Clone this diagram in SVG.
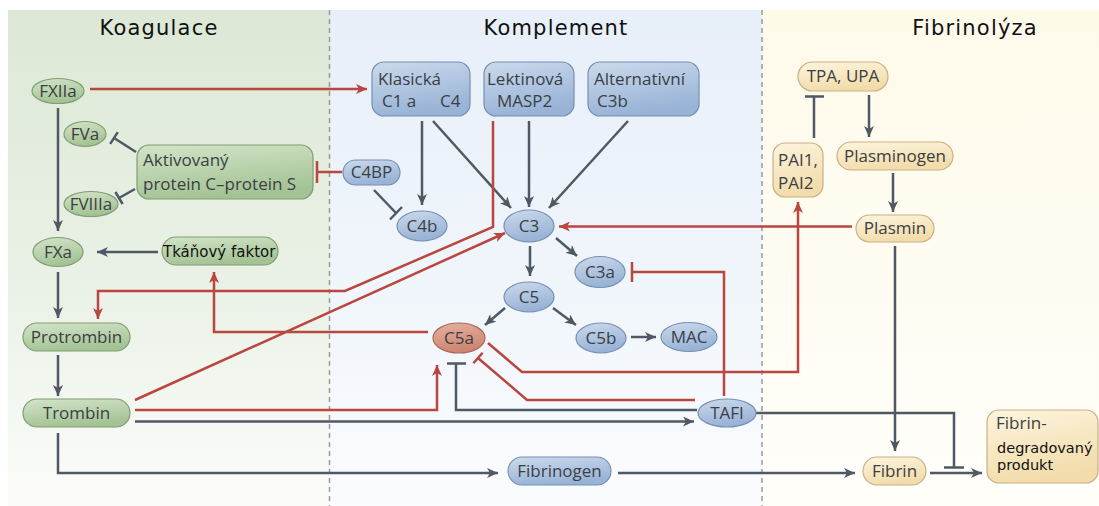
<svg xmlns="http://www.w3.org/2000/svg" width="1099" height="506" viewBox="0 0 1099 506">
<defs>
<linearGradient id="bgL" x1="0" y1="0" x2="0" y2="1"><stop offset="0" stop-color="#dce8d5"/><stop offset="0.55" stop-color="#eaf1e6"/><stop offset="1" stop-color="#fbfcfa"/></linearGradient>
<linearGradient id="bgM" x1="0" y1="0" x2="0" y2="1"><stop offset="0" stop-color="#e7eff9"/><stop offset="0.6" stop-color="#f1f6fb"/><stop offset="1" stop-color="#fbfcfe"/></linearGradient>
<linearGradient id="bgR" x1="0" y1="0" x2="0" y2="1"><stop offset="0" stop-color="#fefaea"/><stop offset="1" stop-color="#fffef9"/></linearGradient>
<linearGradient id="gG" x1="0" y1="0" x2="0.3" y2="1"><stop offset="0" stop-color="#d3e4c8"/><stop offset="1" stop-color="#a4c395"/></linearGradient>
<linearGradient id="gB" x1="0" y1="0" x2="0.3" y2="1"><stop offset="0" stop-color="#ccdaec"/><stop offset="1" stop-color="#98b3d6"/></linearGradient>
<linearGradient id="gY" x1="0" y1="0" x2="0.3" y2="1"><stop offset="0" stop-color="#fdf5de"/><stop offset="1" stop-color="#f2dcab"/></linearGradient>
<linearGradient id="gR" x1="0" y1="0" x2="0.3" y2="1"><stop offset="0" stop-color="#e6b0a1"/><stop offset="1" stop-color="#cd8672"/></linearGradient>
<marker id="aD" markerUnits="userSpaceOnUse" markerWidth="12" markerHeight="10" refX="11" refY="5" orient="auto"><path d="M0,0 L11,5 L0,10 L3,5 Z" fill="#4e5964"/></marker>
<marker id="aR" markerUnits="userSpaceOnUse" markerWidth="12" markerHeight="10" refX="11" refY="5" orient="auto"><path d="M0,0 L11,5 L0,10 L3,5 Z" fill="#b9463f"/></marker>
<style>
.hd{font-family:"DejaVu Sans",Verdana,sans-serif;font-size:21px;fill:#111;letter-spacing:1.2px;text-anchor:middle}
.t{font-family:"Open Sans","Noto Sans",sans-serif;font-size:17px;fill:#3a3f44}
.c{text-anchor:middle}
.tb{font-family:"DejaVu Sans",Verdana,sans-serif;font-size:14.5px;fill:#111}
.ng{fill:url(#gG);stroke:#809d73;stroke-width:1.2}
.nb{fill:url(#gB);stroke:#7690b2;stroke-width:1.2}
.ny{fill:url(#gY);stroke:#c7b186;stroke-width:1.2}
.nr{fill:url(#gR);stroke:#a8695a;stroke-width:1.2}
.d{fill:none;stroke:#4e5964;stroke-width:2.5}
.r{fill:none;stroke:#b9463f;stroke-width:2.5}
.dash{stroke:#9a9a9a;stroke-width:1.5;stroke-dasharray:5 4}
</style>
</defs>
<rect width="1099" height="506" fill="#ffffff"/>
<g id="background">
<rect x="8" y="10" width="322" height="496" fill="url(#bgL)"/>
<rect x="330" y="10" width="432" height="496" fill="url(#bgM)"/>
<rect x="762" y="10" width="337" height="496" fill="url(#bgR)"/>
<line class="dash" x1="329.5" y1="10" x2="329.5" y2="506"/>
<line class="dash" x1="762" y1="10" x2="762" y2="506"/>
<text class="hd" x="159" y="35">Koagulace</text>
<text class="hd" x="556" y="35">Komplement</text>
<text class="hd" x="975" y="35">Fibrinolýza</text>
</g>
<g id="connectors">
<line class="d" x1="58" y1="108" x2="58" y2="231" marker-end="url(#aD)"/>
<line class="d" x1="158" y1="252" x2="97" y2="252" marker-end="url(#aD)"/>
<line class="d" x1="58" y1="272" x2="58" y2="318" marker-end="url(#aD)"/>
<line class="d" x1="58" y1="355" x2="58" y2="396" marker-end="url(#aD)"/>
<line class="d" x1="136" y1="152" x2="114" y2="138"/>
<line class="d" x1="110.2" y1="143.9" x2="117.8" y2="132.1"/>
<line class="d" x1="135" y1="189" x2="119" y2="198"/>
<line class="d" x1="122.6" y1="204" x2="115.4" y2="192"/>
<line class="d" x1="135" y1="421.5" x2="694" y2="421.5" marker-end="url(#aD)"/>
<polyline class="d" points="58,433 58,473 498,473" marker-end="url(#aD)"/>
<line class="d" x1="618" y1="473" x2="855" y2="473" marker-end="url(#aD)"/>
<line class="d" x1="930" y1="473" x2="982" y2="473" marker-end="url(#aD)"/>
<polyline class="d" points="756,413 954,413 954,467"/>
<line class="d" x1="944" y1="467.5" x2="964" y2="467.5"/>
<polyline class="d" points="697,410 456,410 456,364"/>
<line class="d" x1="447" y1="363.5" x2="466" y2="363.5"/>
<line class="d" x1="895" y1="246" x2="895" y2="451" marker-end="url(#aD)"/>
<line class="d" x1="869" y1="95" x2="869" y2="137" marker-end="url(#aD)"/>
<line class="d" x1="893" y1="173" x2="893" y2="212" marker-end="url(#aD)"/>
<line class="d" x1="814" y1="138" x2="814" y2="97"/>
<line class="d" x1="805" y1="96.5" x2="824" y2="96.5"/>
<line class="d" x1="422" y1="121" x2="422" y2="205" marker-end="url(#aD)"/>
<line class="d" x1="433" y1="121" x2="511" y2="208" marker-end="url(#aD)"/>
<line class="d" x1="529" y1="121" x2="529" y2="207" marker-end="url(#aD)"/>
<line class="d" x1="628" y1="121" x2="549" y2="208" marker-end="url(#aD)"/>
<line class="d" x1="374" y1="190" x2="396" y2="213"/>
<line class="d" x1="390" y1="219.5" x2="402" y2="207"/>
<line class="d" x1="530" y1="246" x2="530" y2="276" marker-end="url(#aD)"/>
<line class="d" x1="556" y1="238" x2="577" y2="256" marker-end="url(#aD)"/>
<line class="d" x1="505" y1="308" x2="485" y2="325" marker-end="url(#aD)"/>
<line class="d" x1="553" y1="308" x2="576" y2="325" marker-end="url(#aD)"/>
<line class="d" x1="631" y1="337" x2="656" y2="337" marker-end="url(#aD)"/>
<line class="r" x1="90" y1="89" x2="367" y2="89" marker-end="url(#aR)"/>
<line class="r" x1="342" y1="172" x2="318" y2="172"/>
<line class="r" x1="317" y1="161" x2="317" y2="183"/>
<polyline class="r" points="493,121 493,227 345,291 98,291 98,319" marker-end="url(#aR)"/>
<line class="r" x1="135" y1="400" x2="505" y2="233" marker-end="url(#aR)"/>
<polyline class="r" points="428,332 214,332 214,272" marker-end="url(#aR)"/>
<polyline class="r" points="135,410 437,410 437,365" marker-end="url(#aR)"/>
<polyline class="r" points="488,343 522,372 798,372 798,202" marker-end="url(#aR)"/>
<polyline class="r" points="695,400 527,400 478,358"/>
<line class="r" x1="482.6" y1="352.7" x2="473.4" y2="363.3"/>
<polyline class="r" points="724,396 724,272 632,272"/>
<line class="r" x1="632" y1="262" x2="632" y2="282"/>
<line class="r" x1="852" y1="226.5" x2="559" y2="226.5" marker-end="url(#aR)"/>
</g>
<g id="n-fxiia"><ellipse class="ng" cx="58" cy="91" rx="26" ry="12.5"/><text class="t c" x="58" y="97">FXIIa</text></g>
<g id="n-fva"><ellipse class="ng" cx="85" cy="134" rx="21" ry="12.5"/><text class="t c" x="85" y="140">FVa</text></g>
<g id="n-fviiia"><ellipse class="ng" cx="91" cy="204" rx="27" ry="12.5"/><text class="t c" x="91" y="210">FVIIIa</text></g>
<g id="n-apc"><rect class="ng" x="137" y="145" width="176" height="54" rx="12"/><text class="t" x="143" y="166">Aktivovaný</text><text class="t" x="143" y="190">protein C–protein S</text></g>
<g id="n-fxa"><ellipse class="ng" cx="58" cy="252" rx="25" ry="14.5"/><text class="t c" x="58" y="258">FXa</text></g>
<g id="n-tf"><rect class="ng" x="162" y="237" width="116" height="28" rx="14"/><text class="tb" x="163" y="257" style="font-size:15px">Tkáňový faktor</text></g>
<g id="n-protrombin"><rect class="ng" x="23" y="323" width="107" height="28" rx="14"/><text class="t c" x="76.5" y="343">Protrombin</text></g>
<g id="n-trombin"><rect class="ng" x="23" y="399" width="107" height="28" rx="14"/><text class="t c" x="76.5" y="419">Trombin</text></g>
<g id="n-klasicka"><rect class="nb" x="372" y="62" width="98" height="54" rx="12"/><text class="t" x="378" y="85">Klasická</text><text class="t" x="382" y="107">C1 a</text><text class="t" x="440" y="107">C4</text></g>
<g id="n-lektinova"><rect class="nb" x="484" y="62" width="90" height="54" rx="12"/><text class="t" x="487" y="85">Lektinová</text><text class="t" x="497" y="107">MASP2</text></g>
<g id="n-alternativni"><rect class="nb" x="588" y="62" width="111" height="54" rx="12"/><text class="t" x="594" y="85">Alternativní</text><text class="t" x="597" y="107">C3b</text></g>
<g id="n-c4bp"><rect class="nb" x="343" y="160" width="57" height="25" rx="12.5"/><text class="t c" x="371.5" y="178">C4BP</text></g>
<g id="n-c4b"><ellipse class="nb" cx="422" cy="226" rx="25" ry="15"/><text class="t c" x="422" y="232">C4b</text></g>
<g id="n-c3"><ellipse class="nb" cx="529" cy="226" rx="25" ry="16"/><text class="t c" x="529" y="232">C3</text></g>
<g id="n-c3a"><ellipse class="nb" cx="600" cy="272" rx="25" ry="15.5"/><text class="t c" x="600" y="278">C3a</text></g>
<g id="n-c5"><ellipse class="nb" cx="529" cy="297" rx="25" ry="15"/><text class="t c" x="529" y="303">C5</text></g>
<g id="n-c5a"><ellipse class="nr" cx="459" cy="338" rx="26" ry="15"/><text class="t c" x="459" y="344">C5a</text></g>
<g id="n-c5b"><ellipse class="nb" cx="601" cy="338" rx="25" ry="15"/><text class="t c" x="601" y="344">C5b</text></g>
<g id="n-mac"><ellipse class="nb" cx="689" cy="337" rx="28" ry="14.5"/><text class="t c" x="689" y="343">MAC</text></g>
<g id="n-tafi"><ellipse class="nb" cx="727" cy="413" rx="29" ry="14"/><text class="t c" x="727" y="419">TAFI</text></g>
<g id="n-fibrinogen"><rect class="nb" x="508" y="457" width="103" height="28" rx="14"/><text class="t c" x="559.5" y="477">Fibrinogen</text></g>
<g id="n-tpa"><rect class="ny" x="798" y="62" width="90" height="29" rx="14.5"/><text class="t c" x="843" y="82">TPA, UPA</text></g>
<g id="n-pai"><rect class="ny" x="773" y="143" width="50" height="54" rx="12"/><text class="t" x="778" y="166">PAI1,</text><text class="t" x="778" y="189">PAI2</text></g>
<g id="n-plasminogen"><rect class="ny" x="837" y="142" width="116" height="28" rx="14"/><text class="t c" x="895" y="162">Plasminogen</text></g>
<g id="n-plasmin"><rect class="ny" x="856" y="215" width="78" height="27" rx="13.5"/><text class="t c" x="895" y="234">Plasmin</text></g>
<g id="n-fibrin"><rect class="ny" x="863" y="457" width="63" height="28" rx="14"/><text class="t c" x="894.5" y="477">Fibrin</text></g>
<g id="n-fdp"><rect class="ny" x="987" y="410" width="111" height="73" rx="12"/><text class="t" x="996" y="429">Fibrin-</text><text class="tb" x="997" y="453">degradovaný</text><text class="tb" x="997" y="470">produkt</text></g>
</svg>
